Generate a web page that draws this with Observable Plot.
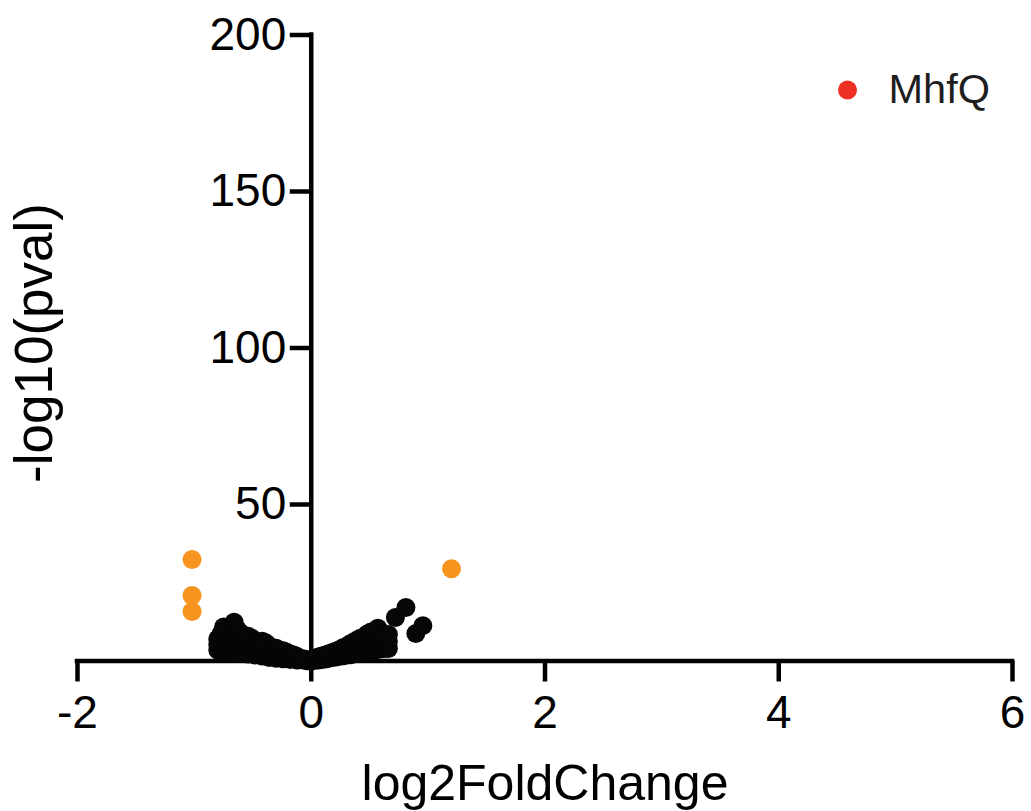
<!DOCTYPE html>
<html>
<head>
<meta charset="utf-8">
<script src="https://cdn.jsdelivr.net/npm/d3@7"></script>
<script src="https://cdn.jsdelivr.net/npm/@observablehq/plot@0.6"></script>
<style>
  html, body { margin: 0; padding: 0; background: #fff; }
  #chart svg { display: block; }
</style>
</head>
<body>
<div id="chart"></div>
<script>
// Genes that did not pass the significance cut-off
const baseLog2FC = [
  -0.80, -0.80, -0.80,
  -0.77, -0.77, -0.77, -0.77,
  -0.75, -0.75, -0.75, -0.75,
  -0.72, -0.72, -0.72,
  -0.69, -0.69, -0.69, -0.69,
  -0.66, -0.66, -0.66, -0.66, -0.66,
  -0.63, -0.63, -0.63,
  -0.60, -0.60, -0.60, -0.60,
  -0.57, -0.57, -0.57,
  -0.54, -0.54, -0.54,
  -0.51, -0.51, -0.51,
  -0.48, -0.48, -0.48,
  -0.45, -0.45, -0.45,
  -0.42, -0.42, -0.42,
  -0.39, -0.39, -0.39,
  -0.36, -0.36, -0.36,
  -0.33, -0.33,
  -0.30, -0.30, -0.30,
  -0.27, -0.27,
  -0.24, -0.24, -0.24,
  -0.21, -0.21,
  -0.18, -0.18,
  -0.15, -0.15,
  -0.12, -0.12,
  -0.09,
  -0.06, -0.06,
  -0.03, -0.03,
  0.00,
  0.03, 0.03,
  0.06, 0.06,
  0.09, 0.09,
  0.12, 0.12,
  0.15, 0.15,
  0.18, 0.18,
  0.21, 0.21,
  0.24, 0.24,
  0.27, 0.27, 0.27,
  0.30, 0.30, 0.30,
  0.33, 0.33, 0.33,
  0.36, 0.36, 0.36,
  0.39, 0.39, 0.39, 0.39,
  0.42, 0.42, 0.42, 0.42,
  0.45, 0.45, 0.45,
  0.48, 0.48, 0.48, 0.48,
  0.51, 0.51, 0.51, 0.51,
  0.54, 0.54, 0.54,
  0.57, 0.57, 0.57, 0.57,
  0.60, 0.60, 0.60,
  0.63, 0.63, 0.63,
  0.66, 0.66, 0.66,
  0.72, 0.81, 0.895, 0.955
];
const baseNegLogP = [
  3.5, 5.2, 7.0,
  2.8, 4.6, 6.5, 8.8,
  10.9, 3.2, 5.8, 7.6,
  2.9, 4.3, 9.6,
  3.6, 6.2, 8.1, 10.2,
  12.4, 2.5, 4.9, 7.3, 9.0,
  3.4, 6.0, 10.0,
  2.6, 4.4, 7.2, 8.8,
  3.1, 5.6, 7.7,
  2.2, 4.0, 7.9,
  3.0, 6.1, 7.3,
  1.9, 4.7, 6.4,
  2.6, 3.9, 5.9,
  1.6, 3.3, 6.3,
  2.2, 4.3, 5.8,
  1.1, 3.0, 4.9,
  1.8, 3.9,
  0.9, 2.7, 4.1,
  1.5, 3.3,
  0.7, 2.4, 3.3,
  1.3, 2.8,
  0.5, 2.2,
  1.0, 1.9,
  0.3, 1.4,
  0.8,
  0.2, 0.6,
  0.1, 0.4,
  0.0,
  0.2, 0.8,
  0.3, 1.3,
  0.5, 1.6,
  0.6, 1.9,
  0.9, 2.3,
  1.1, 2.7,
  1.3, 3.1,
  1.5, 3.6,
  1.7, 2.8, 4.2,
  1.9, 3.3, 4.6,
  2.0, 3.8, 5.4,
  2.2, 4.4, 6.0,
  2.5, 3.7, 5.4, 6.6,
  2.7, 4.3, 6.0, 7.3,
  2.9, 4.9, 7.7,
  3.1, 5.6, 6.8, 8.6,
  3.3, 4.7, 7.4, 9.3,
  3.5, 6.1, 8.2,
  3.7, 5.2, 7.0, 10.5,
  3.9, 6.5, 8.8,
  4.1, 5.4, 7.6,
  4.0, 6.2, 8.5,
  13.9, 17.1, 8.8, 11.3
];

// Significant genes
const sigLog2FC   = [-1.02, -1.02, -1.02, 1.20];
const sigNegLogP  = [32.4, 20.9, 15.8, 29.5];

// Highlighted gene (legend entry)
const legendLabels = ["MhfQ"];

// Axis ticks
const xTicks = [-2, 0, 2, 4, 6];
const xTickLabels = ["-2", "0", "2", "4", "6"];
const yTicks = [0, 50, 100, 150, 200];
const yTickLabels = ["", "50", "100", "150", "200"];

const xTitle = "log2FoldChange";
const yTitle = "-log10(pval)";

const baseGenes = baseLog2FC.map((fc, i) => ({fc, p: baseNegLogP[i]}));
const sigGenes = sigLog2FC.map((fc, i) => ({fc, p: sigNegLogP[i]}));
const xTickRows = xTicks.map((v, i) => ({v, label: xTickLabels[i]}));
const yTickRows = yTicks.map((v, i) => ({v, label: yTickLabels[i]}));

const black = "#060606";
const orange = "#F7941F";
const red = "#EE3124";
const axisWidth = 4.5;
const tickLen = 21;

const chart = Plot.plot({
  width: 1031,
  height: 811,
  marginLeft: 77,
  marginRight: 19,
  marginTop: 34.5,
  marginBottom: 150.5,
  style: {fontFamily: "'Liberation Sans', Arial, Helvetica, sans-serif", background: "#fff"},
  x: {domain: [-2, 6], axis: null},
  y: {domain: [0, 200], axis: null},
  marks: [
    // axis lines crossing at the origin
    Plot.ruleX([0], {x: d => d, y1: 0, y2: 200, stroke: "#000", strokeWidth: axisWidth, strokeLinecap: "square"}),
    Plot.ruleY([0], {y: d => d, x1: -2, x2: 6, stroke: "#000", strokeWidth: axisWidth, strokeLinecap: "square"}),
    // y ticks pointing left from the vertical axis
    Plot.ruleY(yTicks.slice(1), {y: d => d, x1: 0, x2: 0, insetLeft: -tickLen, stroke: "#000", strokeWidth: axisWidth}),
    // x ticks pointing down from the horizontal axis
    Plot.ruleX(xTicks, {x: d => d, y1: 0, y2: 0, insetBottom: -tickLen, stroke: "#000", strokeWidth: axisWidth}),
    Plot.text(yTickRows, {x: 0, y: "v", text: "label", textAnchor: "end", lineAnchor: "middle", dx: -25, fontSize: 46, fill: "#000"}),
    Plot.text(xTickRows, {x: "v", y: 0, text: "label", textAnchor: "middle", lineAnchor: "top", dy: 34.5, fontSize: 46, fill: "#000"}),
    // axis titles
    Plot.text([xTitle], {frameAnchor: "bottom", text: d => d, textAnchor: "middle", lineAnchor: "top", dy: 103, fontSize: 50, fill: "#000"}),
    Plot.text([yTitle], {frameAnchor: "left", text: d => d, rotate: -90, textAnchor: "middle", lineAnchor: "top", dx: -63, dy: -5, fontSize: 53, fill: "#000"}),
    // genes
    Plot.dot(baseGenes, {x: "fc", y: "p", r: 9.5, fill: black, stroke: null}),
    Plot.dot(sigGenes, {x: "fc", y: "p", r: 9.5, fill: orange, stroke: null}),
    // legend
    Plot.dot(legendLabels, {frameAnchor: "top-right", dx: -165, dy: 55, r: 9.5, fill: red, stroke: null}),
    Plot.text(legendLabels, {frameAnchor: "top-right", text: d => d, textAnchor: "start", lineAnchor: "middle", dx: -124, dy: 55, fontSize: 41.5, fill: "#1e1e1e"})
  ]
});

document.getElementById("chart").appendChild(chart);
</script>
</body>
</html>
